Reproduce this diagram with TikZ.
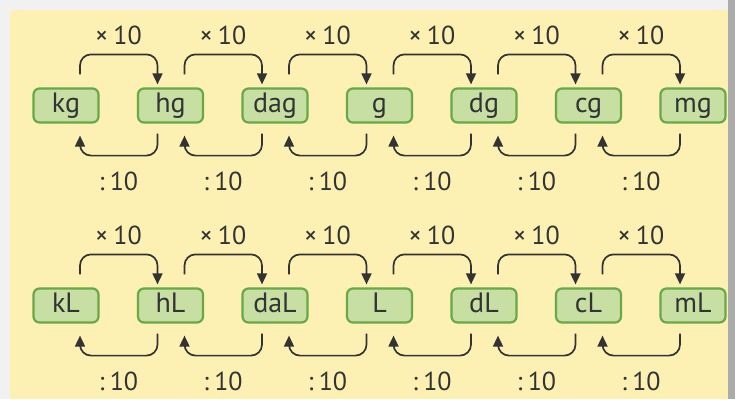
\documentclass[tikz,border=0pt]{standalone}
\usepackage{fontspec}
\setmainfont{PT Sans}
\usetikzlibrary{arrows.meta}
\definecolor{bg}{HTML}{FDF0B3}
\definecolor{margin}{HTML}{F1F1F1}
\definecolor{edge}{HTML}{ABABAB}
\definecolor{boxfill}{HTML}{C8DFA3}
\definecolor{boxline}{HTML}{68A846}
\definecolor{ink}{HTML}{333333}
\begin{document}
\begin{tikzpicture}[x=1pt,y=-1pt,
  unitbox/.style={draw=boxline, fill=boxfill, line width=2.2pt, rounded corners=6pt,
    minimum width=65pt, minimum height=34pt, inner sep=0pt, text=ink,
    text height=19pt, text depth=6pt,
    font=\fontsize{28}{28}\selectfont},
  lab/.style={text=ink, font=\fontsize{26}{26}\selectfont, inner sep=0pt},
  conv/.style={draw=ink, line width=1.7pt, rounded corners=11pt,
    -{Triangle[length=11pt,width=10pt]}}]
\useasboundingbox (0,0) rectangle (735,399);
\fill[margin] (0,0) rectangle (735,399);
\fill[edge] (728,0) rectangle (735,399);
\fill[bg] (10,10) rectangle (728,399);
\foreach \r/\dy/\list in {a/0/{kg,hg,dag,g,dg,cg,mg}, b/200/{kL,hL,daL,L,dL,cL,mL}} {
  \foreach \t [count=\i from 0] in \list {
    \node[unitbox] (\r\i) at ({66+104.5*\i},{105.5+\dy}) {\t};
  }
}
\foreach \r/\dy in {a/0,b/200} {
  \foreach \i [evaluate=\i as \j using int(\i+1)] in {0,...,5} {
    \node[lab] (\r m\i) at ({118.5+104.5*\i},{35.5+\dy}) {×\hspace{0.2em}10};
    \node[lab] (\r d\i) at ({118.5+104.5*\i},{181.5+\dy}) {:\hspace{0.2em}10};
    \draw[conv] ([xshift=14pt,yshift=13pt]\r\i.north) -- ++(0,-20)
      -| ([xshift=-13pt,yshift=3pt]\r\j.north);
    \draw[conv] ([xshift=-13pt,yshift=-10pt]\r\j.south) -- ++(0,22)
      -| ([xshift=14pt,yshift=-12pt]\r\i.south);
  }
}
\end{tikzpicture}
\end{document}
